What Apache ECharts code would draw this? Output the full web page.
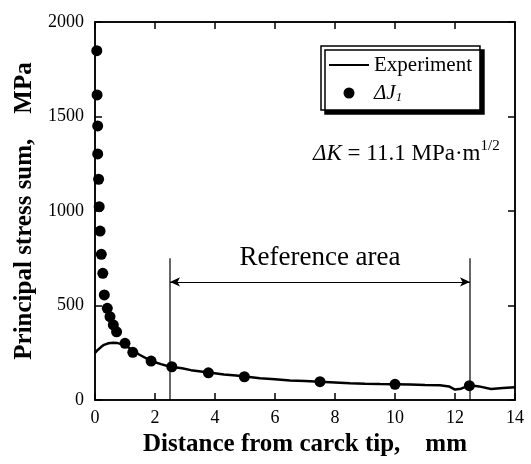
<!DOCTYPE html>
<html>
<head>
<meta charset="utf-8">
<script src="https://cdn.jsdelivr.net/npm/echarts@6/dist/echarts.min.js"></script>
<style>
  html, body { margin: 0; padding: 0; background: #fff; }
  #chart { width: 531px; height: 464px; }
</style>
</head>
<body>
<div id="chart"></div>
<script>
// 实验曲线（距离 mm, 主应力和 MPa）
const expX = [0, 0.1, 0.2, 0.3, 0.45, 0.6, 0.75, 0.95, 1.1, 1.3, 1.5, 1.85, 2.2, 2.5, 2.9, 3.2, 3.8, 4.3, 4.7, 5.0,
              5.5, 6.0, 6.5, 7.0, 7.5, 8.0, 8.5, 9.0, 9.5, 10.0, 10.5, 11.0, 11.5, 11.8, 12.0, 12.2, 12.5, 12.8, 13.2, 13.6, 14.0];
const expY = [250, 266, 280, 292, 300, 303, 301, 294, 280, 256, 238, 208, 190, 176, 168, 158, 145, 135, 130, 124,
              115, 110, 103, 100, 97, 93, 89, 86, 84, 83, 82, 79, 78, 72, 55, 60, 78, 72, 58, 63, 67];

// ΔJ1 计算点
const dotX = [0.06, 0.07, 0.09, 0.09, 0.12, 0.14, 0.17, 0.21, 0.26, 0.31, 0.41, 0.5, 0.61, 0.72, 1.0, 1.26, 1.87, 2.56, 3.78, 4.98, 7.5, 10.0, 12.48];
const dotY = [1848, 1614, 1450, 1302, 1168, 1023, 894, 771, 670, 556, 485, 441, 397, 361, 300, 252, 206, 176, 144, 123, 97, 83, 76];

// 参考区域
const refX = [2.5, 12.5];
const refTop = 750;
const arrowY = 625;

const xTicks = [0, 2, 4, 6, 8, 10, 12, 14];
const yTicks = [0, 500, 1000, 1500, 2000];

const font = 'Liberation Serif';
const myChart = echarts.init(document.getElementById('chart'));

const gridRect = { left: 95, right: 16, top: 22, bottom: 64, outerBoundsMode: 'none' };
const axisLineStyle = { color: '#000', width: 1.5 };

const options = {
    animation: false,
    backgroundColor: '#fff',
    // 两个重叠的 grid：0 号画下、左坐标轴；1 号画上、右边框刻度
    grid: [
        Object.assign({ show: true, borderColor: '#000', borderWidth: 1.5 }, gridRect),
        Object.assign({}, gridRect)
    ],
    xAxis: [
        {
            type: 'value',
            gridIndex: 0,
            min: xTicks[0],
            max: xTicks[xTicks.length - 1],
            interval: 2,
            name: 'Distance from carck tip,    mm',
            nameLocation: 'middle',
            nameGap: 27,
            nameTextStyle: { fontFamily: font, fontSize: 25, fontWeight: 'bold', color: '#000' },
            axisLine: { show: true, onZero: false, lineStyle: axisLineStyle },
            axisTick: { show: true, inside: true, length: 7, lineStyle: axisLineStyle },
            axisLabel: { fontFamily: font, fontSize: 18, color: '#000', margin: 9 },
            splitLine: { show: false }
        },
        {
            type: 'value',
            gridIndex: 1,
            position: 'top',
            min: xTicks[0],
            max: xTicks[xTicks.length - 1],
            interval: 2,
            axisLine: { show: true, onZero: false, lineStyle: axisLineStyle },
            axisTick: { show: true, inside: true, length: 7, lineStyle: axisLineStyle },
            axisLabel: { show: false },
            splitLine: { show: false }
        }
    ],
    yAxis: [
        {
            type: 'value',
            gridIndex: 0,
            min: yTicks[0],
            max: yTicks[yTicks.length - 1],
            interval: 500,
            name: 'Principal stress sum,    MPa',
            nameLocation: 'middle',
            nameGap: 56,
            nameTextStyle: { fontFamily: font, fontSize: 25, fontWeight: 'bold', color: '#000' },
            axisLine: { show: true, onZero: false, lineStyle: axisLineStyle },
            axisTick: { show: true, inside: true, length: 7, lineStyle: axisLineStyle },
            axisLabel: { fontFamily: font, fontSize: 18, color: '#000', margin: 11, formatter: (v) => String(v) },
            splitLine: { show: false }
        },
        {
            type: 'value',
            gridIndex: 1,
            position: 'right',
            min: yTicks[0],
            max: yTicks[yTicks.length - 1],
            interval: 500,
            axisLine: { show: true, onZero: false, lineStyle: axisLineStyle },
            axisTick: { show: true, inside: true, length: 7, lineStyle: axisLineStyle },
            axisLabel: { show: false },
            splitLine: { show: false }
        }
    ],
    legend: {
        orient: 'vertical',
        left: 321,
        top: 46,
        padding: [8, 8, 6, 7],
        itemWidth: 40,
        itemHeight: 11,
        itemGap: 6,
        backgroundColor: '#fff',
        borderColor: '#000',
        borderWidth: 1.5,
        borderRadius: 0,
        shadowColor: '#000',
        shadowBlur: 0,
        shadowOffsetX: 4,
        shadowOffsetY: 4,
        textStyle: {
            fontFamily: font, fontSize: 21, color: '#000', lineHeight: 22,
            rich: {
                it: { fontFamily: font, fontSize: 21, fontStyle: 'italic', color: '#000' },
                sub: { fontFamily: font, fontSize: 13, fontStyle: 'italic', color: '#000', verticalAlign: 'bottom', padding: [10, 0, 0, 0] }
            }
        },
        formatter: (name) => name === 'dJ' ? '{it|ΔJ}{sub|1}' : name,
        data: [
            { name: 'Experiment', itemStyle: { opacity: 0 } },
            { name: 'dJ' }
        ]
    },
    graphic: [
        {
            type: 'text',
            left: 313,
            top: 139,
            style: {
                text: '{it|ΔK} = 11.1 MPa·m{sup|1/2}',
                fontFamily: font,
                fontSize: 23,
                fill: '#000',
                rich: {
                    it: { fontFamily: font, fontSize: 23, fontStyle: 'italic', fill: '#000' },
                    sup: { fontFamily: font, fontSize: 15, fill: '#000', verticalAlign: 'top', padding: [0, 0, 14, 0] }
                }
            }
        }
    ],
    series: [
        {
            name: 'Experiment',
            type: 'line',
            symbol: 'none',
            itemStyle: { color: '#000' },
            lineStyle: { color: '#000', width: 2.5 },
            data: expX.map((x, i) => [x, expY[i]]),
            z: 3
        },
        {
            name: 'dJ',
            type: 'scatter',
            symbol: 'circle',
            symbolSize: 11,
            itemStyle: { color: '#000', opacity: 1 },
            data: dotX.map((x, i) => [x, dotY[i]]),
            z: 4
        },
        {
            name: 'ref',
            type: 'line',
            symbol: 'none',
            silent: true,
            lineStyle: { color: '#000', width: 1.2 },
            data: [[refX[0], 0], [refX[0], refTop], null, [refX[1], refTop], [refX[1], 0]],
            connectNulls: false,
            markLine: {
                silent: true,
                symbol: ['arrow', 'arrow'],
                symbolSize: [7, 10],
                lineStyle: { color: '#000', width: 1.2, type: 'solid' },
                label: {
                    show: true,
                    position: 'middle',
                    formatter: 'Reference area',
                    fontFamily: font,
                    fontSize: 27,
                    color: '#000',
                    distance: 10
                },
                data: [[{ coord: [refX[0], arrowY] }, { coord: [refX[1], arrowY] }]]
            }
        }
    ]
};

myChart.setOption(options);
</script>
</body>
</html>
